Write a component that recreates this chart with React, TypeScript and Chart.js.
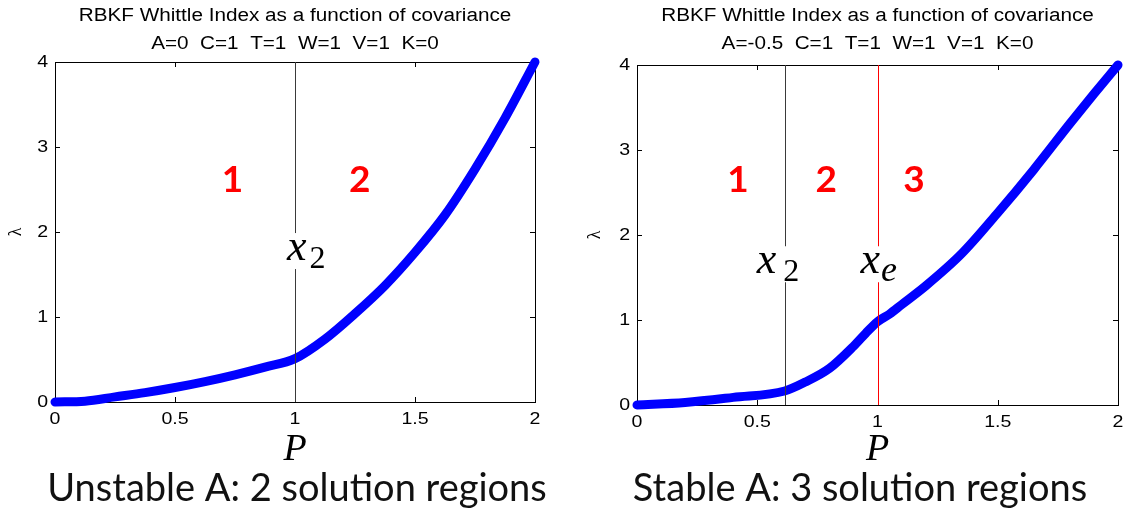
import React, { useEffect, useRef } from 'react';
import { Chart, registerables } from 'chart.js';

Chart.register(...registerables);

// Whittle index λ as a function of the covariance P (A = 0, unstable)
const unstableP = [0, 0.125, 0.25, 0.375, 0.5, 0.625, 0.75, 0.875, 1.0, 1.125, 1.25, 1.375, 1.5, 1.625, 1.75, 1.875, 2.0];
const unstableLambda = [0, 0.01, 0.06, 0.11, 0.17, 0.24, 0.32, 0.41, 0.51, 0.74, 1.04, 1.37, 1.76, 2.2, 2.74, 3.34, 4.0];

// Whittle index λ as a function of the covariance P (A = -0.5, stable)
const stableP = [0, 0.2, 0.4, 0.614, 0.7, 0.8, 0.9, 0.95, 1.0, 1.05, 1.1, 1.2, 1.35, 1.5, 1.65, 1.8, 1.9, 2.0];
const stableLambda = [0, 0.03, 0.09, 0.165, 0.27, 0.43, 0.69, 0.84, 0.98, 1.07, 1.18, 1.4, 1.78, 2.26, 2.77, 3.31, 3.66, 4.0];

// Region boundaries on the P axis
const unstableBoundaries = [1.0];
const stableBoundaries = [0.614, 1.0];

// Axis ticks
const xTicks = [0, 0.5, 1, 1.5, 2];
const xTickLabels = ['0', '0.5', '1', '1.5', '2'];
const yTicks = [0, 1, 2, 3, 4];
const yTickLabels = ['0', '1', '2', '3', '4'];

// Region numbers
const unstableRegions = ['1', '2'];
const stableRegions = ['1', '2', '3'];

const TITLE = 'RBKF Whittle Index as a function of covariance';
const SANS = '"Liberation Sans", Arial, sans-serif';
const SERIF = '"Liberation Serif", "Times New Roman", serif';
const CAPTION_FONT = 'Lato, "Open Sans", sans-serif';

type Marker = {
  at: number; // index into the boundaries array
  color: string;
  sub: string;
  subItalic: boolean;
  dx: number; // label offset from the line, px
  gap: number; // space between x and subscript, px
  level: number; // label baseline, in λ units
};

type Panel = {
  width: number;
  left: number;
  padTop: number;
  padRight: number;
  yAxisWidth: number;
  xAxisHeight: number;
  lambdaPad: number;
  params: string;
  caption: string;
  captionX: number;
  P: number[];
  L: number[];
  boundaries: number[];
  boundaryColors: string[];
  regions: string[];
  regionAt: number[]; // P positions of region numbers
  regionLevel: number;
  markers: Marker[];
};

const panels: Panel[] = [
  {
    width: 560,
    left: 0,
    padTop: 62,
    padRight: 25,
    yAxisWidth: 55,
    xAxisHeight: 110,
    lambdaPad: 7,
    params: 'A=0  C=1  T=1  W=1  V=1  K=0',
    caption: 'Unstable A: 2 solution regions',
    captionX: 297,
    P: unstableP,
    L: unstableLambda,
    boundaries: unstableBoundaries,
    boundaryColors: ['#3a3a3a'],
    regions: unstableRegions,
    regionAt: [0.74, 1.27],
    regionLevel: 2.61,
    markers: [{ at: 0, color: '#000', sub: '2', subItalic: false, dx: -8, gap: 3, level: 1.67 }],
  },
  {
    width: 563,
    left: 560,
    padTop: 65,
    padRight: 5,
    yAxisWidth: 77,
    xAxisHeight: 107,
    lambdaPad: 26,
    params: 'A=-0.5  C=1  T=1  W=1  V=1  K=0',
    caption: 'Stable A: 3 solution regions',
    captionX: 300,
    P: stableP,
    L: stableLambda,
    boundaries: stableBoundaries,
    boundaryColors: ['#3a3a3a', '#ff0000'],
    regions: stableRegions,
    regionAt: [0.42, 0.787, 1.152],
    regionLevel: 2.65,
    markers: [
      { at: 0, color: '#000', sub: '2', subItalic: false, dx: -28, gap: 7, level: 1.55 },
      { at: 1, color: '#000', sub: 'e', subItalic: true, dx: -17, gap: 1, level: 1.55 },
    ],
  },
];

function stretched(ctx: CanvasRenderingContext2D, text: string, x: number, y: number, align: CanvasTextAlign, sx: number) {
  ctx.save();
  ctx.translate(x, y);
  ctx.scale(sx, 1);
  ctx.textAlign = align;
  ctx.fillText(text, 0, 0);
  ctx.restore();
}

function makeDecor(panel: Panel) {
  return {
    id: 'panelDecor',
    beforeDatasetsDraw(chart: any) {
      const { ctx, chartArea: a, scales } = chart;
      const xs = scales.x;
      const ys = scales.y;
      ctx.save();
      ctx.strokeStyle = '#000';
      ctx.lineWidth = 1;
      ctx.strokeRect(Math.round(a.left) + 0.5, Math.round(a.top) + 0.5, Math.round(a.right - a.left), Math.round(a.bottom - a.top));
      ctx.beginPath();
      xTicks.forEach((v) => {
        const px = Math.round(xs.getPixelForValue(v)) + 0.5;
        ctx.moveTo(px, a.bottom);
        ctx.lineTo(px, a.bottom - 5);
        ctx.moveTo(px, a.top);
        ctx.lineTo(px, a.top + 5);
      });
      yTicks.forEach((v) => {
        const py = Math.round(ys.getPixelForValue(v)) + 0.5;
        ctx.moveTo(a.left, py);
        ctx.lineTo(a.left + 5, py);
        ctx.moveTo(a.right, py);
        ctx.lineTo(a.right - 5, py);
      });
      ctx.stroke();
      ctx.restore();
    },
    afterDraw(chart: any) {
      const { ctx, chartArea: a, scales } = chart;
      const xs = scales.x;
      const ys = scales.y;
      const cx = (a.left + a.right) / 2;
      ctx.save();

      // region boundaries
      panel.boundaries.forEach((b, i) => {
        const px = Math.round(xs.getPixelForValue(b)) + 0.5;
        ctx.strokeStyle = panel.boundaryColors[i];
        ctx.lineWidth = 1;
        ctx.beginPath();
        ctx.moveTo(px, a.top);
        ctx.lineTo(px, a.bottom);
        ctx.stroke();
      });

      // boundary labels x_2, x_e
      panel.markers.forEach((m) => {
        const lineX = xs.getPixelForValue(panel.boundaries[m.at]);
        const base = ys.getPixelForValue(m.level);
        ctx.font = `italic 44px ${SERIF}`;
        const wx = ctx.measureText('x').width;
        const subFont = m.subItalic ? `italic 36px ${SERIF}` : `32px ${SERIF}`;
        ctx.font = subFont;
        const ws = ctx.measureText(m.sub).width;
        const left = lineX + m.dx;
        const subX = left + wx + m.gap;
        ctx.fillStyle = '#fff';
        ctx.fillRect(left - 3, base - 27, subX + ws + 3 - (left - 3), 36);
        ctx.fillStyle = m.color;
        ctx.textAlign = 'left';
        ctx.textBaseline = 'alphabetic';
        ctx.font = `italic 44px ${SERIF}`;
        ctx.fillText('x', left, base);
        ctx.font = subFont;
        ctx.fillText(m.sub, subX, base + 8);
      });

      // region numbers
      ctx.fillStyle = '#ff0000';
      ctx.font = `bold 37px ${CAPTION_FONT}`;
      ctx.textAlign = 'center';
      ctx.textBaseline = 'middle';
      panel.regions.forEach((r, i) => {
        ctx.fillText(r, xs.getPixelForValue(panel.regionAt[i]), ys.getPixelForValue(panel.regionLevel));
      });

      // tick labels
      ctx.fillStyle = '#000';
      ctx.font = `17px ${SANS}`;
      ctx.textBaseline = 'middle';
      xTicks.forEach((v, i) => {
        stretched(ctx, xTickLabels[i], xs.getPixelForValue(v), a.bottom + 17, 'center', 1.15);
      });
      yTicks.forEach((v, i) => {
        stretched(ctx, yTickLabels[i], a.left - 7, ys.getPixelForValue(v), 'right', 1.15);
      });

      // titles
      ctx.textBaseline = 'alphabetic';
      ctx.font = `18px ${SANS}`;
      stretched(ctx, TITLE, cx, 20.5, 'center', 1.15);
      stretched(ctx, panel.params, cx, 48.5, 'center', 1.15);

      // caption
      ctx.fillStyle = '#111';
      ctx.font = `38px ${CAPTION_FONT}`;
      ctx.textAlign = 'center';
      ctx.fillText(panel.caption, panel.captionX, 501);

      ctx.restore();
    },
  };
}

function PanelChart({ panel }: { panel: Panel }) {
  const ref = useRef<HTMLCanvasElement | null>(null);
  useEffect(() => {
    if (!ref.current) return;
    const chart = new Chart(ref.current, {
      type: 'line',
      data: {
        datasets: [
          {
            data: panel.P.map((p, i) => ({ x: p, y: panel.L[i] })),
            borderColor: '#0000ff',
            backgroundColor: '#0000ff',
            borderWidth: 9,
            pointRadius: 0,
            cubicInterpolationMode: 'monotone',
            borderCapStyle: 'round',
            borderJoinStyle: 'round',
            clip: 8,
          } as any,
        ],
      },
      options: {
        responsive: false,
        animation: false,
        devicePixelRatio: 1,
        layout: { padding: { left: 0, right: panel.padRight, top: panel.padTop, bottom: 0 } },
        plugins: {
          legend: { display: false },
          tooltip: { enabled: false },
          title: { display: false },
        },
        scales: {
          x: {
            type: 'linear',
            min: 0,
            max: 2,
            grid: { display: false },
            border: { display: false },
            ticks: { display: false, stepSize: 0.5 },
            title: {
              display: true,
              text: 'P',
              color: '#000',
              font: { family: SERIF, style: 'italic', size: 38, lineHeight: 1 },
              padding: { top: 0, bottom: 43 },
            },
            afterFit: (s: any) => {
              s.height = panel.xAxisHeight;
            },
          },
          y: {
            type: 'linear',
            min: 0,
            max: 4,
            grid: { display: false },
            border: { display: false },
            ticks: { display: false, stepSize: 1 },
            title: {
              display: true,
              text: 'λ',
              color: '#000',
              font: { family: SERIF, size: 18, lineHeight: 1 },
              padding: { top: panel.lambdaPad, bottom: 0 },
            },
            afterFit: (s: any) => {
              s.width = panel.yAxisWidth;
            },
          },
        },
      } as any,
      plugins: [makeDecor(panel)],
    });
    return () => chart.destroy();
  }, [panel]);
  return (
    <canvas
      ref={ref}
      width={panel.width}
      height={512}
      style={{ position: 'absolute', left: panel.left, top: 0, width: panel.width, height: 512 }}
    />
  );
}

export default function App() {
  return (
    <div style={{ position: 'fixed', left: 0, top: 0, width: 1123, height: 512, background: '#fff', overflow: 'hidden' }}>
      {panels.map((p, i) => (
        <PanelChart key={i} panel={p} />
      ))}
    </div>
  );
}
